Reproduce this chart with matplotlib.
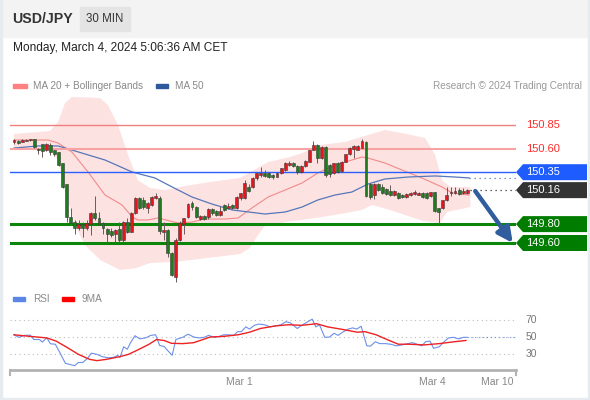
import matplotlib
matplotlib.use('Agg')
import matplotlib.pyplot as plt
from matplotlib.patches import Rectangle, Polygon
from matplotlib.lines import Line2D
from matplotlib.transforms import IdentityTransform, blended_transform_factory
import numpy as np

plt.rcParams['font.family'] = ['Liberation Sans', 'DejaVu Sans']

W, H = 590, 400

# 30 min candles, oldest first
opens = [150.666, 150.684, 150.673, 150.684, 150.688, 150.698, 150.600, 150.645, 150.585, 150.638,
         150.585, 150.560, 150.444, 150.225, 149.880, 149.826, 149.755, 149.800, 149.755, 149.800,
         149.918, 149.867, 149.810, 149.752, 149.727, 149.690, 149.745, 149.632, 149.826, 149.720,
         149.918, 150.080, 150.055, 149.967, 150.003, 150.073, 150.080, 149.720, 149.738, 149.490,
         149.243, 149.632, 149.800, 149.880, 150.027, 149.985, 149.850, 149.890, 149.880, 149.960,
         149.940, 149.897, 150.000, 149.967, 150.000, 149.967, 150.073, 150.080, 150.197, 150.190,
         150.285, 150.320, 150.345, 150.345, 150.320, 150.303, 150.338, 150.373, 150.426, 150.444,
         150.416, 150.350, 150.420, 150.460, 150.585, 150.638, 150.497, 150.620, 150.430, 150.338,
         150.444, 150.363, 150.462, 150.540, 150.595, 150.585, 150.610, 150.666, 150.230, 150.110,
         150.230, 150.197, 150.170, 150.154, 150.110, 150.126, 150.108, 150.083, 150.108, 150.115,
         150.112, 150.126, 150.126, 150.098, 150.137, 149.967, 149.967, 150.055, 150.126, 150.126,
         150.160, 150.126, 150.126]
highs = [150.700, 150.692, 150.702, 150.702, 150.704, 150.702, 150.610, 150.650, 150.660, 150.655,
         150.590, 150.565, 150.450, 150.230, 149.967, 149.840, 149.840, 149.826, 149.840, 149.925,
         150.100, 149.932, 149.820, 149.760, 149.755, 149.745, 149.826, 149.830, 149.861, 149.925,
         150.090, 150.090, 150.090, 150.030, 150.095, 150.130, 150.100, 149.826, 149.745, 149.500,
         149.650, 149.830, 149.870, 150.020, 150.040, 149.990, 149.900, 149.900, 149.970, 149.975,
         149.950, 149.995, 150.010, 150.020, 150.010, 150.100, 150.130, 150.265, 150.230, 150.300,
         150.350, 150.400, 150.370, 150.355, 150.330, 150.350, 150.395, 150.455, 150.470, 150.455,
         150.425, 150.425, 150.475, 150.590, 150.680, 150.645, 150.630, 150.630, 150.440, 150.450,
         150.455, 150.470, 150.545, 150.615, 150.640, 150.640, 150.700, 150.680, 150.235, 150.235,
         150.240, 150.220, 150.180, 150.215, 150.160, 150.135, 150.115, 150.130, 150.135, 150.160,
         150.140, 150.135, 150.135, 150.145, 150.145, 149.975, 150.060, 150.197, 150.190, 150.190,
         150.180, 150.180, 150.170]
lows = [150.652, 150.650, 150.665, 150.678, 150.684, 150.610, 150.545, 150.515, 150.578, 150.530,
        150.525, 150.418, 150.180, 149.826, 149.790, 149.700, 149.740, 149.667, 149.740, 149.685,
        149.840, 149.790, 149.700, 149.614, 149.667, 149.614, 149.614, 149.614, 149.710, 149.712,
        149.910, 149.960, 149.960, 149.914, 149.995, 150.065, 149.700, 149.632, 149.455, 149.250,
        149.190, 149.620, 149.700, 149.870, 149.950, 149.870, 149.845, 149.840, 149.850, 149.900,
        149.890, 149.890, 149.940, 149.960, 149.960, 149.960, 150.060, 150.065, 150.140, 150.180,
        150.270, 150.300, 150.300, 150.285, 150.280, 150.295, 150.330, 150.365, 150.420, 150.405,
        150.330, 150.340, 150.410, 150.455, 150.580, 150.444, 150.490, 150.300, 150.300, 150.330,
        150.340, 150.355, 150.455, 150.535, 150.497, 150.580, 150.605, 150.085, 150.066, 150.066,
        150.150, 150.120, 150.110, 150.100, 150.100, 150.070, 150.075, 150.075, 150.100, 150.110,
        150.105, 150.080, 150.070, 150.090, 149.930, 149.800, 149.960, 150.050, 150.100, 150.115,
        150.110, 150.120, 150.120]
closes = [150.691, 150.656, 150.691, 150.695, 150.698, 150.620, 150.580, 150.575, 150.650, 150.568,
          150.540, 150.426, 150.197, 149.880, 149.810, 149.755, 149.800, 149.755, 149.810, 149.914,
          149.861, 149.800, 149.755, 149.695, 149.685, 149.738, 149.632, 149.826, 149.720, 149.914,
          150.080, 149.967, 149.985, 150.020, 150.090, 150.100, 149.727, 149.740, 149.490, 149.260,
          149.632, 149.810, 149.865, 150.013, 149.980, 149.880, 149.890, 149.850, 149.960, 149.914,
          149.897, 149.940, 149.950, 149.990, 149.967, 150.090, 150.126, 150.240, 150.150, 150.290,
          150.340, 150.345, 150.313, 150.295, 150.295, 150.345, 150.390, 150.450, 150.450, 150.416,
          150.350, 150.420, 150.470, 150.585, 150.638, 150.497, 150.620, 150.320, 150.327, 150.444,
          150.356, 150.462, 150.540, 150.610, 150.630, 150.630, 150.680, 150.100, 150.090, 150.230,
          150.160, 150.126, 150.120, 150.110, 150.150, 150.080, 150.083, 150.120, 150.126, 150.144,
          150.133, 150.090, 150.080, 150.137, 149.940, 149.932, 150.055, 150.108, 150.144, 150.150,
          150.120, 150.154, 150.160]

# indicator lines, sampled at candle positions
ma20_x = [0, 8.4, 10.9, 14.3, 18.3, 22.5, 26.7, 29.2, 30.6, 33.1, 35.6, 40.5, 44.0, 47.2, 52.2, 55.4,
          58.8, 62.8, 67.0, 71.2, 75.1, 79.3, 83.5, 86.0, 87.5, 91.7, 95.9, 100.8, 105.8, 108.3, 112.5]
ma20 = [150.691, 150.691, 150.659, 150.564, 150.352, 150.108, 150.003, 149.875, 149.844, 149.844, 149.865,
        149.812, 149.822, 149.854, 149.854, 149.865, 149.971, 150.087, 150.161, 150.236, 150.342, 150.426,
        150.479, 150.511, 150.500, 150.447, 150.373, 150.289, 150.193, 150.130, 150.108]
ma50_x = [0, 5.9, 10.9, 14.3, 22.5, 29.2, 34.8, 39.1, 44.0, 48.9, 53.9, 62.0, 67.0, 71.2, 75.1, 79.3,
          83.5, 87.5, 91.7, 97.4, 104.1, 109.0, 112.5]
ma50 = [150.606, 150.628, 150.628, 150.585, 150.479, 150.352, 150.289, 150.193, 150.087, 150.013, 149.950,
        149.907, 149.928, 149.981, 150.056, 150.108, 150.140, 150.225, 150.278, 150.299, 150.310, 150.299,
        150.289]
bb_up_x = [0, 8.9, 10.9, 12.6, 14.3, 21.3, 23.2, 25.7, 28.2, 30.6, 33.6, 37.3, 42.3, 48.4, 55.9, 62.8,
           68.2, 71.2, 75.6, 81.8, 87.5, 91.7, 95.9, 101.6, 104.1, 105.8, 107.8, 112.8]
bb_upper = [150.755, 150.786, 150.882, 151.083, 151.147, 151.136, 151.062, 150.850, 150.532, 150.267,
            150.183, 150.161, 150.204, 150.246, 150.289, 150.458, 150.511, 150.553, 150.638, 150.670,
            150.744, 150.797, 150.765, 150.712, 150.532, 150.267, 150.193, 150.193]
bb_lo_x = [0, 8.9, 10.9, 12.6, 15.1, 17.5, 21.3, 26.2, 29.9, 33.6, 39.8, 46.0, 55.9, 58.3, 60.3, 62.0,
           67.0, 71.2, 79.3, 86.0, 88.5, 92.9, 101.1, 105.3, 107.0, 112.8]
bb_lower = [150.606, 150.585, 150.479, 150.161, 149.791, 149.579, 149.420, 149.314, 149.330, 149.388,
            149.399, 149.431, 149.483, 149.547, 149.685, 149.780, 149.822, 149.844, 149.897, 149.950,
            150.003, 149.950, 149.833, 149.812, 149.928, 149.981]

# key levels
res_levels = [150.85, 150.60]
pivot = 150.35
sup_levels = [149.80, 149.60]
target = 149.60

# RSI panel
rsi_x = [0, 1.2, 2.6, 4.0, 4.9, 6.3, 7.0, 8.1, 9.0, 10.2, 11.3, 12.7, 14.1, 15.0, 15.9, 17.0, 18.2, 19.1,
         20.5, 21.9, 23.3, 24.6, 25.6, 26.2, 27.1, 28.0, 28.8, 29.9, 31.1, 32.5, 33.8, 35.0, 36.0, 37.1,
         38.0, 39.1, 40.0, 41.7, 43.0, 44.4, 45.8, 47.0, 48.1, 49.5, 50.8, 51.8, 53.1, 54.3, 55.3, 56.2,
         57.3, 58.2, 59.4, 60.5, 61.9, 63.3, 64.6, 66.0, 67.2, 68.3, 70.0, 71.1, 72.2, 73.7, 74.6, 75.5,
         76.8, 78.0, 79.1, 80.1, 81.2, 82.6, 83.7, 84.7, 85.8, 87.2, 88.1, 89.3, 90.4, 91.8, 93.1, 94.5,
         95.9, 97.3, 98.5, 99.6, 100.8, 101.7, 102.8, 103.7, 105.1, 106.2, 107.4, 108.6, 109.9, 111.1, 112.0]
rsi = [52.6, 49.6, 51.9, 52.2, 47, 47, 44, 49, 42, 41.5, 32, 19, 17.4, 16.3, 20, 20, 25, 31, 29.6, 26.7,
       25.6, 26, 28.5, 26, 38.5, 35.6, 43.3, 51.5, 47.8, 48.9, 51.9, 52.6, 40, 38.9, 34, 28.5, 47, 49.6,
       53.3, 50, 48.9, 49.6, 51.9, 49.6, 50.7, 52.6, 52.6, 51.9, 56.3, 56.3, 61.9, 59.3, 63.7, 65.2, 64.4,
       61.9, 63, 64.4, 68, 66.7, 60, 63.7, 66.7, 71, 61.9, 64.4, 49.6, 50, 54.4, 51.9, 55.6, 59.3, 60.7,
       59.3, 62.6, 39.6, 39.3, 44.4, 42.2, 42.2, 41.5, 39.6, 40.7, 42.2, 43.3, 41.5, 39.6, 44.4, 45.2,
       36.7, 38.5, 44, 48.9, 49.6, 47.8, 49.6, 49.6]
rsi_ma_x = [0, 4.0, 8.1, 10.4, 13.1, 15.9, 18.7, 20.5, 22.8, 26.0, 28.3, 30.6, 33.4, 35.2, 37.1, 38.9,
            41.7, 44.4, 46.7, 48.5, 51.8, 55.4, 58.2, 60.9, 64.6, 67.9, 71.1, 74.8, 77.5, 81.2, 84.9,
            86.7, 89.5, 92.2, 95.0, 97.7, 101.4, 105.1, 108.8, 111.7]
rsi_ma = [52.6, 50.7, 48.9, 45.2, 37.8, 29.6, 23.7, 22.2, 23.7, 26.7, 29.6, 34.8, 41.5, 47, 45.9, 42.6,
          42.2, 43.3, 47, 50, 50.7, 52.6, 55.6, 60, 63, 64.4, 63.7, 65.6, 61.9, 58.9, 55.6, 56.3, 52.6,
          47, 41.5, 41.5, 40.7, 42.2, 44.4, 45.9]
rsi_levels = [70, 50, 30]
date_ticks = [55.6, 103.3, 119.4]
date_labels = ['Mar 1', 'Mar 4', 'Mar 10']


def fx(x):
    return x / W


def fy(y):
    return 1 - y / H


fig = plt.figure(figsize=(W / 100, H / 100), dpi=100)
fig.patch.set_facecolor('white')

# header strip and frame
fig.add_artist(Rectangle((0, fy(37)), 1, 37 / H, transform=fig.transFigure, color='#f3f3f3', zorder=0))
fig.add_artist(Rectangle((fx(80), fy(31)), 50 / W, 24 / H, transform=fig.transFigure, color='#e4e4e4', zorder=1))
for xs, ys in [([fx(1), fx(1)], [0, 1]), ([fx(589), fx(589)], [0, 1]), ([0, 1], [fy(398.5), fy(398.5)])]:
    fig.add_artist(Line2D(xs, ys, transform=fig.transFigure, color='#e6ebef', lw=2.5))

fig.text(fx(12), fy(19), 'USD/JPY', fontsize=10.2, fontweight='bold', color='#333333', va='center')
fig.text(fx(105), fy(19), '30 MIN', fontsize=8.3, color='#333333', va='center', ha='center')
fig.text(fx(13), fy(48), 'Monday, March 4, 2024 5:06:36 AM CET', fontsize=8.6, color='#222222', va='center')

# legend row
fig.add_artist(Rectangle((fx(13), fy(88)), 14 / W, 4 / H, transform=fig.transFigure, color='#ff8080'))
fig.text(fx(33), fy(86), 'MA 20 + Bollinger Bands', fontsize=7.2, color='#888888', va='center')
fig.add_artist(Rectangle((fx(156), fy(88)), 12 / W, 4 / H, transform=fig.transFigure, color='#2e5a9c'))
fig.text(fx(175), fy(86), 'MA 50', fontsize=7.2, color='#888888', va='center')
fig.text(fx(582), fy(86), 'Research \u00a9 2024 Trading Central', fontsize=7.2, color='#999999',
         va='center', ha='right')

# ---- price panel ----
ax = fig.add_axes([fx(10), fy(283), 506 / W, 188 / H])
ax.set_xlim(-0.99, 124.07)
ax.set_ylim(149.176, 151.168)
ax.axis('off')

band_x = np.concatenate([bb_up_x, bb_lo_x[::-1]])
band_y = np.concatenate([bb_upper, bb_lower[::-1]])
ax.fill(band_x, band_y, color='#fde2e2', lw=0, zorder=1)
ax.plot(ma20_x, ma20, color='#f28a8a', lw=0.8, zorder=2)
ax.plot(ma50_x, ma50, color='#5677b8', lw=0.9, zorder=2)

ax.axhline(res_levels[0], color='#f08080', lw=1.0, zorder=3)
ax.axhline(res_levels[1], color='#f7a3a3', lw=1.5, zorder=3)
ax.axhline(pivot, color='#2a5fff', lw=1.0, zorder=3)
for lv in sup_levels:
    ax.axhline(lv, color='#0b860b', lw=2.2, zorder=3)
ax.axhline(ax.get_ylim()[0], color='#e8e8e8', lw=0.8, ls=(0, (1, 2)), zorder=1)

idx = np.arange(len(closes))
o = np.array(opens)
c = np.array(closes)
up = c >= o
cols = np.where(up, '#e8141c', '#1e7b1e')
ax.vlines(idx, lows, highs, color='#6a5a5a', lw=0.7, zorder=4)
body = np.maximum(np.abs(c - o), 0.006)
ax.bar(idx, body, bottom=np.minimum(o, c), width=0.72, color=cols, edgecolor='#3a3a3a', lw=0.4, zorder=5)

# dotted extensions to the tags
xr = ax.get_xlim()[1]
ax.plot([ma50_x[-1], xr], [ma50[-1], ma50[-1]], color='#5677b8', lw=0.9, ls=(0, (1, 3)), zorder=2)
ax.plot([idx[-1] + 0.8, xr], [closes[-1], closes[-1]], color='#333333', lw=0.9, ls=(0, (1, 3)), zorder=2)

# forecast arrow
ax.annotate('', xy=(xr - 0.8, target), xytext=(idx[-1] + 2.0, closes[-1] - 0.01),
            arrowprops=dict(arrowstyle='-|>,head_length=0.9,head_width=0.45', lw=3.2,
                            color='#2f5d9e', shrinkA=0, shrinkB=0),
            zorder=6, annotation_clip=False)

blend = blended_transform_factory(fig.transFigure, ax.transData)
for lv in res_levels:
    ax.text(fx(526), lv, f'{lv:.2f}', transform=blend, fontsize=8, color='#ff2a2a', va='center')


def tag(price, text, fc):
    yd = ax.transData.transform((0, price))[1]
    pts = [(516, yd), (523, yd + 8), (587, yd + 8), (587, yd - 8), (523, yd - 8)]
    fig.add_artist(Polygon(pts, closed=True, transform=IdentityTransform(), facecolor=fc, edgecolor='none'))
    fig.text(fx(526), yd / H, text, fontsize=8, color='white', va='center')


tag(pivot, f'{pivot:.2f}', '#1f5cff')
tag(closes[-1], f'{closes[-1]:.2f}', '#333333')
for lv in sup_levels:
    tag(lv, f'{lv:.2f}', '#007d00')

# ---- RSI panel ----
fig.add_artist(Rectangle((fx(13), fy(301)), 12 / W, 4 / H, transform=fig.transFigure, color='#5d85e6'))
fig.text(fx(33), fy(299), 'RSI', fontsize=7.2, color='#888888', va='center')
fig.add_artist(Rectangle((fx(62), fy(301)), 12 / W, 4 / H, transform=fig.transFigure, color='#ff0000'))
fig.text(fx(82), fy(299), '9MA', fontsize=7.2, color='#888888', va='center')

ar = fig.add_axes([fx(10), fy(370), 506 / W, 65 / H])
ar.set_xlim(-0.99, 124.07)
ar.set_ylim(11.2, 87.6)
for s in ['top', 'left', 'right']:
    ar.spines[s].set_visible(False)
ar.spines['bottom'].set_color('#b3b3b3')
ar.spines['bottom'].set_linewidth(2)
ar.set_yticks([])
ar.set_xticks(date_ticks)
ar.set_xticklabels(date_labels)
ar.tick_params(axis='x', length=0, pad=5, labelsize=7.5, labelcolor='#888888')
ar.patch.set_alpha(0)

for lv in rsi_levels:
    ar.axhline(lv, color='#bbbbbb', lw=0.8, ls=(0, (1, 3)))
    ar.text(fx(531), lv, str(lv), transform=blended_transform_factory(fig.transFigure, ar.transData),
            fontsize=7.5, color='#777777', va='center', ha='center')
ar.plot(rsi_x, rsi, color='#6d8fe6', lw=0.8)
ar.plot(rsi_ma_x, rsi_ma, color='#ee2222', lw=1.0)
ar.plot([rsi_x[-1], xr], [rsi[-1], rsi[-1]], color='#6d8fe6', lw=0.8, ls=(0, (1, 2.5)))

# end ticks of the time axis
for xe in ar.get_xlim():
    ar.plot([xe, xe], [11.2, 5.5], color='#b3b3b3', lw=1.5, clip_on=False)

fig.savefig('out.png', dpi=100)
